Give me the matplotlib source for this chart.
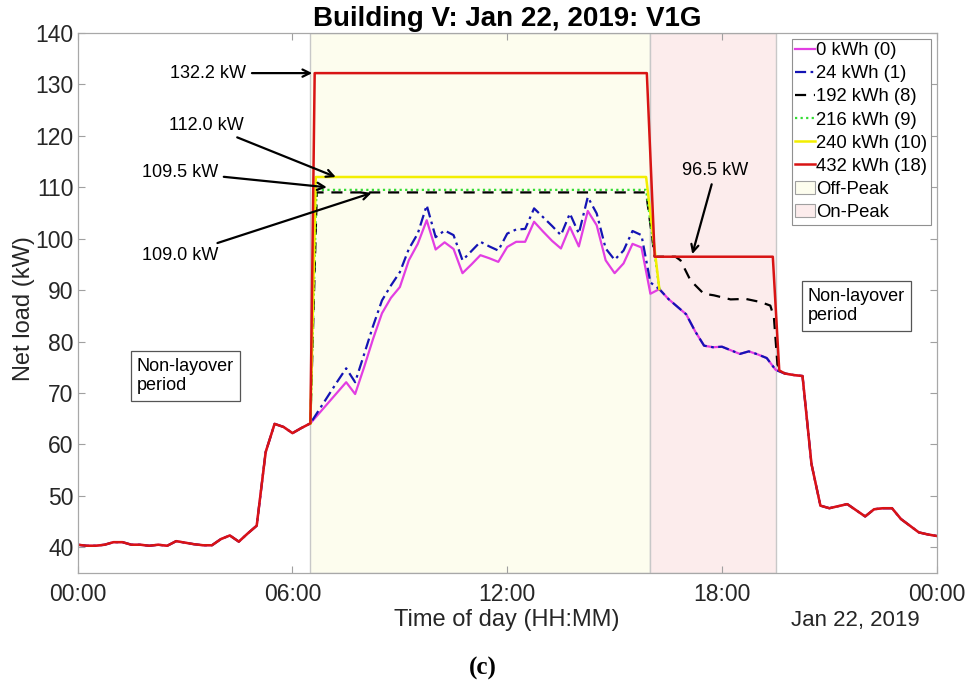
import numpy as np
import matplotlib
matplotlib.use("Agg")
import matplotlib.pyplot as plt
from matplotlib.patches import Patch

matplotlib.rcParams["font.family"] = "Liberation Sans"

# time of day in hours, 15 min steps
hours = np.arange(97) * 0.25

# net load with 0 kWh storage (baseline), kW
load_0kwh = np.array([
    40.5, 40.3, 40.3, 40.5, 41.0, 41.0, 40.5, 40.5, 40.3, 40.5, 40.3, 41.2, 40.9, 40.6,
    40.4, 40.4, 41.6, 42.3, 41.1, 42.7, 44.2, 58.5, 64.0, 63.4, 62.2, 63.2, 64.1,
    66.1, 68.1, 70.1, 72.1, 69.8, 75.0, 80.5, 85.5, 88.5, 90.6, 95.8, 99.0, 103.6, 97.9,
    99.3, 98.0, 93.3, 95.0, 96.8, 96.2, 95.5, 98.4, 99.4, 99.4, 103.3, 101.4, 99.6, 98.1,
    102.3, 98.5, 105.4, 102.6, 95.8, 93.3, 95.2, 99.0, 98.3, 89.3,
    90.2, 88.3, 86.8, 85.3, 82.0, 79.2, 78.9, 79.0, 78.3, 77.6, 78.1, 77.5, 76.8, 74.5,
    73.8, 73.5, 73.3, 56.2, 48.1, 47.6, 48.0, 48.4, 47.2, 46.0, 47.4, 47.6, 47.6, 45.5,
    44.2, 42.9, 42.5, 42.2])

# 24 kWh case differs only 06:45-16:00
load_24_offpeak = [
    66.8, 69.5, 72.2, 74.8, 72.1, 77.5, 83.0, 88.0, 90.9, 93.5, 98.0, 101.0, 106.5, 100.3,
    101.6, 100.7, 95.8, 97.6, 99.4, 98.5, 97.7, 101.0, 101.8, 101.9, 105.9, 104.2, 102.5,
    100.7, 104.9, 101.0, 108.1, 104.9, 98.1, 95.9, 97.7, 101.5, 100.7, 91.5]
load_24kwh = load_0kwh.copy()
load_24kwh[27:65] = load_24_offpeak

# flattened profiles (break points in hours, kW)
t_192 = [6.68, 15.88, 16.12, 16.7, 16.84, 17.12, 17.49, 17.77, 18.24, 18.66, 19.07, 19.35, 19.45, 19.55]
v_192 = [109.0, 109.0, 96.5, 96.5, 95.8, 91.9, 89.3, 89.0, 88.2, 88.3, 87.7, 87.0, 84.8, 75.5]
t_216 = [6.67, 15.88]
v_216 = [109.5, 109.5]
t_240 = [6.65, 15.88]
v_240 = [112.0, 112.0]
t_432 = [6.62, 15.9, 16.12, 19.42, 19.6]
v_432 = [132.2, 132.2, 96.5, 96.5, 74.4]


def with_profile(t_knots, v_knots, rejoin, whole_day=False):
    # profile between layover start (06:30) and the rejoin time
    a = hours <= 6.5 if whole_day else hours == 6.5
    b = hours >= rejoin if whole_day else hours == rejoin
    t = np.concatenate([hours[a], t_knots, hours[b]])
    v = np.concatenate([load_24kwh[a], v_knots, load_24kwh[b]])
    return t, v


fig = plt.figure(figsize=(9.67, 6.86), dpi=100)
ax = fig.add_axes([0.0804, 0.1647, 0.8883, 0.7872])

ax.axvspan(6.5, 16.0, facecolor="#fdfdee", edgecolor="#c8c8c8", lw=1.0, zorder=0)
ax.axvspan(16.0, 19.5, facecolor="#fcecec", edgecolor="#c8c8c8", lw=1.0, zorder=0)

l0, = ax.plot(hours, load_0kwh, color="#e23ee2", lw=1.6)
l1, = ax.plot(hours, load_24kwh, color="#1414b4", lw=1.6, ls=(0, (5, 2, 1.2, 2)))
t, v = with_profile(t_192, v_192, 19.75)
l2, = ax.plot(t, v, color="k", lw=1.6, ls=(0, (5, 3.5)))
t, v = with_profile(t_216, v_216, 16.25)
l3, = ax.plot(t, v, color="#33dd33", lw=1.6, ls=(0, (1, 1.5)))
t, v = with_profile(t_240, v_240, 16.25)
l4, = ax.plot(t, v, color="#f2ee00", lw=1.8)
t, v = with_profile(t_432, v_432, 19.75, whole_day=True)
l5, = ax.plot(t, v, color="#d81414", lw=1.8)

ax.set_xlim(0, 24)
ax.set_ylim(35, 140)
ax.set_xticks([0, 6, 12, 18, 24])
ax.set_xticklabels(["00:00", "06:00", "12:00", "18:00", "00:00"])
ax.set_yticks(np.arange(40, 141, 10))
ax.tick_params(direction="in", top=True, right=True, length=5, width=0.8,
               color="#a0a0a0", labelsize=16.5, labelcolor="#262626", pad=7)
ax.tick_params(axis="y", pad=3)
for s in ax.spines.values():
    s.set_color("#a8a8a8")
    s.set_linewidth(0.9)

ax.set_xlabel("Time of day (HH:MM)", fontsize=17, color="#262626")
ax.xaxis.set_label_coords(0.5, -0.066)
ax.set_ylabel("Net load (kW)", fontsize=17, color="#262626")
ax.yaxis.set_label_coords(-0.05, 0.49)
ax.set_title("Building V: Jan 22, 2019: V1G", fontsize=20, fontweight="bold", pad=5)
ax.text(0.905, -0.088, "Jan 22, 2019", transform=ax.transAxes, fontsize=16,
        color="#262626", ha="center", va="center")

arrow = dict(arrowstyle="->", color="k", lw=1.6, shrinkB=0)
ax.annotate("132.2 kW", xy=(6.55, 132.2), xytext=(3.65, 132.2), fontsize=13,
            ha="center", va="center", arrowprops=arrow)
ax.annotate("112.0 kW", xy=(7.21, 112.0), xytext=(3.6, 122.1), fontsize=13,
            ha="center", va="center", arrowprops=arrow)
ax.annotate("109.5 kW", xy=(6.96, 110.0), xytext=(2.86, 112.9), fontsize=13,
            ha="center", va="center", arrowprops=arrow)
ax.annotate("109.0 kW", xy=(8.21, 108.9), xytext=(2.86, 96.8), fontsize=13,
            ha="center", va="center", arrowprops=arrow)
ax.annotate("96.5 kW", xy=(17.17, 97.0), xytext=(17.82, 113.3), fontsize=13,
            ha="center", va="center", arrowprops=arrow)

box = dict(boxstyle="square,pad=0.35", fc="white", ec="#555555", lw=0.9)
ax.text(3.01, 73.3, "Non-layover\nperiod", fontsize=13, ha="center", va="center",
        multialignment="left", bbox=box)
ax.text(21.76, 86.9, "Non-layover\nperiod", fontsize=13, ha="center", va="center",
        multialignment="left", bbox=box)

handles = [l0, l1, l2, l3, l4, l5,
           Patch(facecolor="#fdfdee", edgecolor="#a0a0a0", lw=0.8),
           Patch(facecolor="#fcecec", edgecolor="#a0a0a0", lw=0.8)]
labels = ["0 kWh (0)", "24 kWh (1)", "192 kWh (8)", "216 kWh (9)", "240 kWh (10)",
          "432 kWh (18)", "Off-Peak", "On-Peak"]
leg = ax.legend(handles, labels, loc="upper right", fontsize=13.3, frameon=True,
                fancybox=False, edgecolor="#909090", framealpha=1, borderaxespad=0.3,
                handlelength=1.05, handletextpad=0.08, labelspacing=0.33,
                borderpad=0.2)
leg.get_frame().set_linewidth(0.8)

fig.text(0.4995, 0.025, "(c)", fontsize=18, fontweight="bold",
         family="Liberation Serif", ha="center", va="center")

fig.savefig("out.png", dpi=100)
